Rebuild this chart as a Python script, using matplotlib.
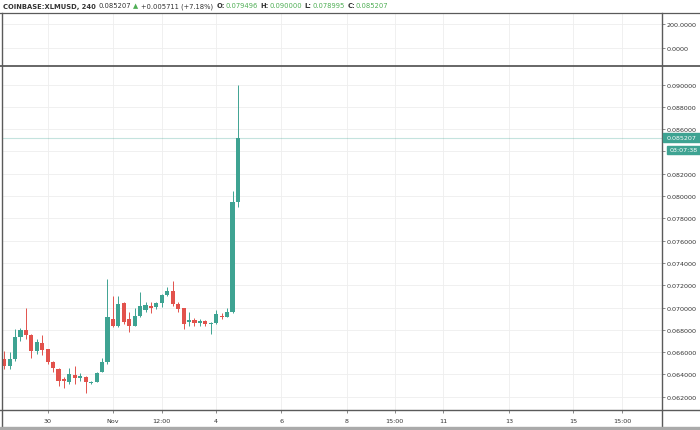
import matplotlib
matplotlib.use('Agg')
import matplotlib.pyplot as plt
from matplotlib.lines import Line2D
from matplotlib.patches import Rectangle

# ---- data (4h candles, XLM/USD) ----
opens = [0.06538, 0.06473, 0.06538, 0.06733, 0.06801, 0.06753, 0.06613, 0.06682, 0.06628, 0.06509,
         0.06448, 0.06359, 0.06329, 0.06395, 0.06365, 0.06379, 0.06323, 0.06335, 0.06424, 0.06514,
         0.06897, 0.06835, 0.07038, 0.06897, 0.06837, 0.06921, 0.06980, 0.07011, 0.07002, 0.07040,
         0.07112, 0.07151, 0.07032, 0.06993, 0.06873, 0.06891, 0.06861, 0.06882, 0.06852, 0.06861,
         0.06927, 0.06912, 0.06962, 0.079496]
highs = [0.06613, 0.06604, 0.06807, 0.06814, 0.06993, 0.06760, 0.06718, 0.06753, 0.06630, 0.06523,
         0.06455, 0.06374, 0.06455, 0.06473, 0.06413, 0.06385, 0.06344, 0.06419, 0.06544, 0.07256,
         0.07106, 0.07106, 0.07047, 0.06957, 0.06993, 0.07142, 0.07047, 0.07047, 0.07047, 0.07121,
         0.07181, 0.07241, 0.07047, 0.06993, 0.06957, 0.06903, 0.06897, 0.06891, 0.06867, 0.06980,
         0.06951, 0.06993, 0.08048, 0.090000]
lows = [0.06448, 0.06448, 0.06523, 0.06702, 0.06718, 0.06544, 0.06583, 0.06574, 0.06493, 0.06419,
        0.06293, 0.06278, 0.06314, 0.06314, 0.06344, 0.06233, 0.06314, 0.06329, 0.06419, 0.06493,
        0.06823, 0.06823, 0.06852, 0.06783, 0.06832, 0.06912, 0.06957, 0.06951, 0.06987, 0.07002,
        0.07106, 0.07011, 0.06957, 0.06807, 0.06832, 0.06837, 0.06837, 0.06837, 0.06762, 0.06852,
        0.06897, 0.06912, 0.06951, 0.078995]
closes = [0.06478, 0.06538, 0.06733, 0.06801, 0.06756, 0.06613, 0.06688, 0.06622, 0.06514, 0.06457,
          0.06344, 0.06344, 0.06401, 0.06365, 0.06383, 0.06329, 0.06335, 0.06413, 0.06509, 0.06912,
          0.06832, 0.07032, 0.06873, 0.06832, 0.06921, 0.07011, 0.07023, 0.06998, 0.07040, 0.07112,
          0.07151, 0.07032, 0.06987, 0.06852, 0.06891, 0.06861, 0.06882, 0.06852, 0.06861, 0.06942,
          0.06912, 0.06957, 0.07949, 0.085207]

x_tick_pos = [8, 20, 29, 39, 51, 63, 71.8, 80.8, 92.9, 104.7, 113.7]
x_tick_labels = ['30', 'Nov', '12:00', '4', '6', '8', '15:00', '11', '13', '15', '15:00']
y_ticks = [0.062, 0.064, 0.066, 0.068, 0.070, 0.072, 0.074, 0.076, 0.078, 0.080,
           0.082, 0.084, 0.086, 0.088, 0.090]
y_hidden = [0.084]  # label covered by the countdown tag in the reference
ind_ticks = [0, 200]
ind_labels = ['0.0000', '200.0000']
last_price = 0.085207
last_label = '0.085207'
countdown = '03:07:38'

UP = '#3ea392'
DOWN = '#e2524c'
GRID = '#eeeeee'
AX = '#5a5a5a'
TXT = '#333333'
FS = 4.6

fig = plt.figure(figsize=(7.0, 4.31), dpi=100)
W, H = 700.0, 431.0

def fx(px):
    return px / W

def fy(py):
    return 1 - py / H

left_px, right_px = 2, 662
top_ind, sep_px, bot_px = 14, 67, 411

ax = fig.add_axes([fx(left_px), fy(bot_px), fx(right_px - left_px), (bot_px - sep_px) / H])
axi = fig.add_axes([fx(left_px), fy(sep_px), fx(right_px - left_px), (sep_px - top_ind) / H], sharex=ax)

n = len(opens)
xs = list(range(n))
bottoms = [min(o, c) for o, c in zip(opens, closes)]
heights = [max(abs(c - o), 0.00004) for o, c in zip(opens, closes)]
colors = [UP if c >= o else DOWN for o, c in zip(opens, closes)]

ax.vlines(xs, lows, highs, colors=colors, linewidth=0.7, zorder=3)
ax.bar(xs, heights, bottom=bottoms, width=0.76, color=colors, linewidth=0, zorder=4)

ax.axhline(last_price, color=UP, alpha=0.3, linewidth=0.8, zorder=2)

ax.set_xlim(-0.4, 121.0)
ax.set_ylim(0.060807, 0.091664)
axi.set_ylim(-157.4, 293.6)

for a in (ax, axi):
    a.set_facecolor('white')
    for s in a.spines.values():
        s.set_visible(False)
    a.grid(True, color=GRID, linewidth=0.6, zorder=0)
    a.set_axisbelow(True)
    a.yaxis.tick_right()
    a.tick_params(axis='y', which='both', direction='out', length=2, width=0.5, color=AX,
                  labelsize=FS, labelcolor=TXT, pad=1.5)

ax.set_yticks(y_ticks)
ax.set_yticklabels(['' if any(abs(v - h) < 1e-9 for h in y_hidden) else '%.6f' % v for v in y_ticks])
axi.set_yticks(ind_ticks)
axi.set_yticklabels(ind_labels)

ax.set_xticks(x_tick_pos)
ax.set_xticklabels(x_tick_labels)
ax.tick_params(axis='x', direction='out', length=2, width=0.5, color=AX, labelsize=FS,
               labelcolor=TXT, pad=3.5)
axi.tick_params(axis='x', length=0, labelbottom=False)

# frame lines
lines = [
    ((fx(0), fx(W)), (fy(top_ind), fy(top_ind)), 0.9),
    ((fx(0), fx(W)), (fy(sep_px), fy(sep_px)), 1.3),
    ((fx(0), fx(W)), (fy(bot_px), fy(bot_px)), 1.0),
    ((fx(right_px), fx(right_px)), (fy(top_ind), fy(427)), 1.0),
    ((fx(left_px), fx(left_px)), (fy(top_ind), fy(427)), 1.0),
]
for xx, yy, lw in lines:
    fig.add_artist(Line2D(xx, yy, color=AX, linewidth=lw, zorder=5))

fig.add_artist(Rectangle((0, 0), 1, fy(427.5), color='#aaaaaa', zorder=5, transform=fig.transFigure))

# price tags on the axis
fig.add_artist(Rectangle((fx(662.5), fy(143)), fx(37.5), 8.6 / H, color=UP, zorder=6,
                         transform=fig.transFigure))
fig.add_artist(Rectangle((fx(666.5), fy(155.2)), fx(33.5), 8.6 / H, color=UP, zorder=6,
                         transform=fig.transFigure))
fig.text(fx(681.5), fy(138.8), last_label, ha='center', va='center', fontsize=FS, color='white',
         zorder=7)
fig.text(fx(683.5), fy(151.0), countdown, ha='center', va='center', fontsize=FS, color='white',
         zorder=7)

# header
HG = '#4fae55'
pieces = [
    ('COINBASE:XLMUSD, 240', TXT, 'bold'),
    ('0.085207', TXT, 'normal'),
    ('\u25b2', HG, 'normal'),
    ('+0.005711 (+7.18%)', TXT, 'normal'),
    ('O:', TXT, 'bold'),
    ('0.079496', HG, 'normal'),
    ('H:', TXT, 'bold'),
    ('0.090000', HG, 'normal'),
    ('L:', TXT, 'bold'),
    ('0.078995', HG, 'normal'),
    ('C:', TXT, 'bold'),
    ('0.085207', HG, 'normal'),
]
gaps_after = [2.5, 2.5, 2.5, 3.0, 0.3, 3.0, 0.3, 3.0, 0.3, 3.0, 0.3, 0]
renderer = fig.canvas.get_renderer()
xcur = 3.0
for (s, col, wt), g in zip(pieces, gaps_after):
    t = fig.text(fx(xcur), fy(6.5), s, ha='left', va='center', fontsize=FS + 0.3,
                 color=col, fontweight=wt)
    bb = t.get_window_extent(renderer)
    xcur += bb.width + g

fig.savefig('out.png', dpi=100)
